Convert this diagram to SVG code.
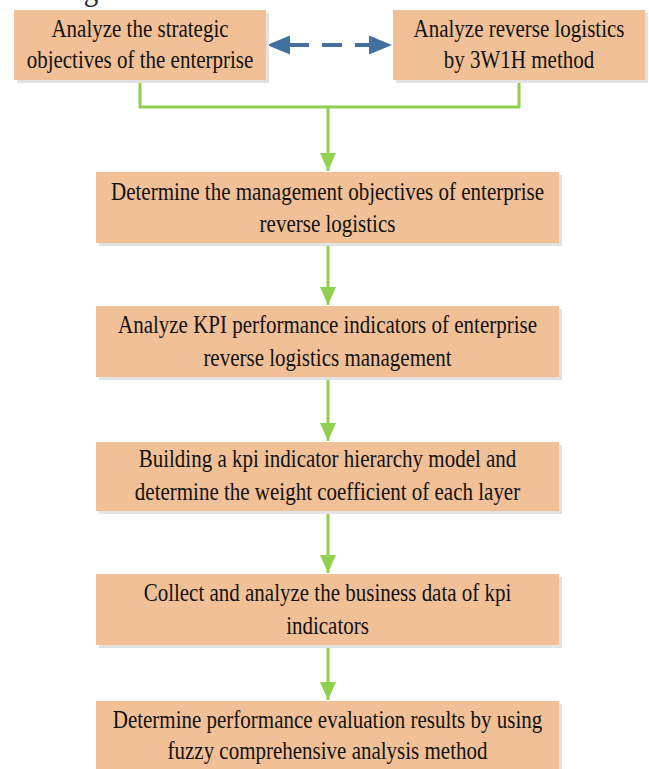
<svg xmlns="http://www.w3.org/2000/svg" width="649" height="769" viewBox="0 0 649 769">
<style>
.box{fill:#F1C097}
.sh{fill:#E2E2E2}
.t{font-family:"Liberation Serif","Times New Roman",serif;font-size:21px;fill:#111;text-anchor:middle}
.g{fill:none;stroke:#92D050;stroke-width:3}
.b{fill:none;stroke:#41719C;stroke-width:4;stroke-dasharray:20 13}
</style>
<defs>
<marker id="ga" markerUnits="userSpaceOnUse" markerWidth="18" markerHeight="16" refX="18" refY="8" orient="auto">
<path d="M0,0 L18,8 L0,16 Z" fill="#92D050"/>
</marker>
<marker id="ba" markerUnits="userSpaceOnUse" markerWidth="23" markerHeight="19" refX="23" refY="9.5" orient="auto-start-reverse">
<path d="M0,0 L23,9.5 L0,19 Z" fill="#41719C"/>
</marker>
</defs>
<rect width="649" height="769" fill="#fff"/>
<text transform="translate(0 0) scale(1 1.18)" style="font-family:'Liberation Serif','Times New Roman',serif;font-size:29px;fill:#222">ccessing the data.</text>

<g id="connectors">
<path class="g" d="M140,80 V107 H519 V80"/>
<path class="g" d="M328,107 V171" marker-end="url(#ga)"/>
<path class="g" d="M328,243 V305" marker-end="url(#ga)"/>
<path class="g" d="M328,377 V441" marker-end="url(#ga)"/>
<path class="g" d="M328,511 V573" marker-end="url(#ga)"/>
<path class="g" d="M328,645 V700" marker-end="url(#ga)"/>
<line x1="289" y1="45" x2="370" y2="45" class="b"/>
<path d="M267,45 H392" stroke="none" fill="none" marker-start="url(#ba)" marker-end="url(#ba)"/>
</g>

<g id="n1">
<rect class="sh" x="17" y="13" width="252" height="70"/>
<rect class="box" x="14" y="10" width="252" height="70"/>
<text class="t" transform="translate(140 37) scale(1 1.18)">Analyze the strategic</text>
<text class="t" transform="translate(140 68) scale(1 1.18)">objectives of the enterprise</text>
</g>
<g id="n2">
<rect class="sh" x="396" y="13" width="252" height="70"/>
<rect class="box" x="393" y="10" width="252" height="70"/>
<text class="t" transform="translate(519 37) scale(1 1.18)">Analyze reverse logistics</text>
<text class="t" transform="translate(519 68) scale(1 1.18)">by 3W1H method</text>
</g>
<g id="n3">
<rect class="sh" x="99" y="175" width="463" height="71"/>
<rect class="box" x="96" y="172" width="463" height="71"/>
<text class="t" transform="translate(327.5 200) scale(1 1.18)">Determine the management objectives of enterprise</text>
<text class="t" transform="translate(327.5 232) scale(1 1.18)">reverse logistics</text>
</g>
<g id="n4">
<rect class="sh" x="99" y="309" width="463" height="71"/>
<rect class="box" x="96" y="306" width="463" height="71"/>
<text class="t" transform="translate(327.5 333) scale(1 1.18)">Analyze KPI performance indicators of enterprise</text>
<text class="t" transform="translate(327.5 366) scale(1 1.18)">reverse logistics management</text>
</g>
<g id="n5">
<rect class="sh" x="99" y="445" width="463" height="69"/>
<rect class="box" x="96" y="442" width="463" height="69"/>
<text class="t" transform="translate(327.5 467) scale(1 1.18)">Building a kpi indicator hierarchy model and</text>
<text class="t" transform="translate(327.5 500) scale(1 1.18)">determine the weight coefficient of each layer</text>
</g>
<g id="n6">
<rect class="sh" x="99" y="577" width="463" height="71"/>
<rect class="box" x="96" y="574" width="463" height="71"/>
<text class="t" transform="translate(327.5 601) scale(1 1.18)">Collect and analyze the business data of kpi</text>
<text class="t" transform="translate(327.5 634) scale(1 1.18)">indicators</text>
</g>
<g id="n7">
<rect class="sh" x="99" y="704" width="463" height="71"/>
<rect class="box" x="96" y="701" width="463" height="71"/>
<text class="t" transform="translate(327.5 728) scale(1 1.18)">Determine performance evaluation results by using</text>
<text class="t" transform="translate(327.5 759) scale(1 1.18)">fuzzy comprehensive analysis method</text>
</g>
</svg>
